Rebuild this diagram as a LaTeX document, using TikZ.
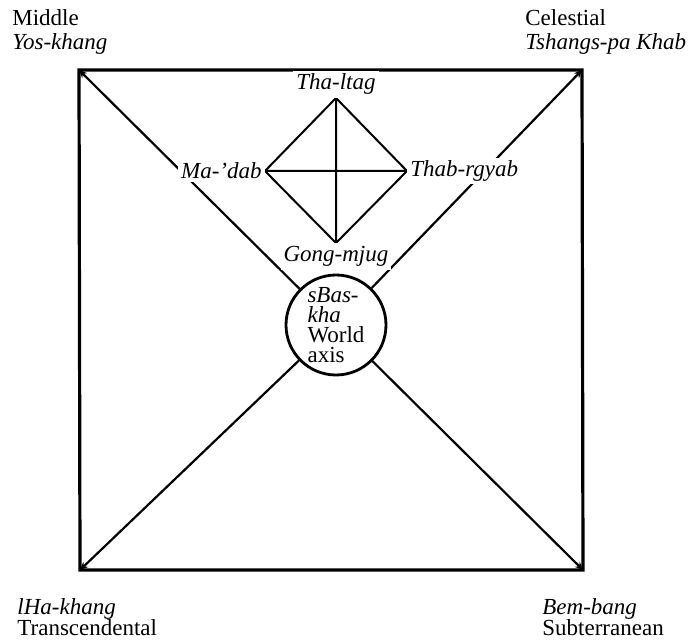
\documentclass[tikz,border=0pt]{standalone}
\usepackage{fontspec}
\setmainfont{Liberation Serif}
\usetikzlibrary{arrows.meta,positioning}

\begin{document}
\begin{tikzpicture}[x=0.5pt,y=-0.5pt,
  lbl/.style={font=\fontsize{11.5}{12}\selectfont\itshape,inner sep=1.5pt,fill=white},
  cnr/.style={font=\fontsize{11.5}{#1}\selectfont,align=left,anchor=north west,inner sep=0pt},
  axs/.style={circle,draw,line width=1.4pt,fill=white,minimum size=50pt,inner sep=0pt,align=left,font=\fontsize{11.5}{10}\selectfont},
  ray/.style={line width=1.1pt,-{Stealth[length=4pt,width=3.5pt]}}]
\useasboundingbox (0,0) rectangle (697,642);
\coordinate (tl) at (79,70);
\coordinate (tr) at (582,70);
\coordinate (bl) at (80,570);
\coordinate (br) at (583,570);
\draw[line width=1.6pt] (tl) -- (tr) -- (br) -- (bl) -- cycle;
% world axis
\node[axs] (axis) at (336,325) {\textit{sBas-}\\\textit{kha}\\World\\axis};
\foreach \c in {tl,tr,bl,br} {
   \draw[ray] (axis) -- (\c);
}
% the four sides
\coordinate (up) at (336,98);
\coordinate (dn) at (336,243);
\coordinate (lt) at (265,171);
\coordinate (rt) at (407,171);
\draw[line width=1pt] (up) -- (rt) -- (dn) -- (lt) -- cycle (up) -- (dn) (lt) -- (rt);
\node[lbl,above=0pt of up] (thaltag) {Tha-ltag};
\node[lbl,left=0pt of lt] (madab) {Ma-'dab};
\node[lbl,right=0pt of rt] (thabrgyab) {Thab-rgyab};
\node[lbl,below=0pt of dn] (gongmjug) {Gong-mjug};
% corners
\node[cnr=12pt] (mid) at (12,9) {Middle\\\textit{Yos-khang}};
\node[cnr=12pt] (cel) at (525,9) {Celestial\\\textit{Tshangs-pa Khab}};
\node[cnr=10.5pt] (tra) at (17,598) {\textit{lHa-khang}\\Transcendental};
\node[cnr=10.5pt] (sub) at (542,598) {\textit{Bem-bang}\\Subterranean};
\end{tikzpicture}
\end{document}
